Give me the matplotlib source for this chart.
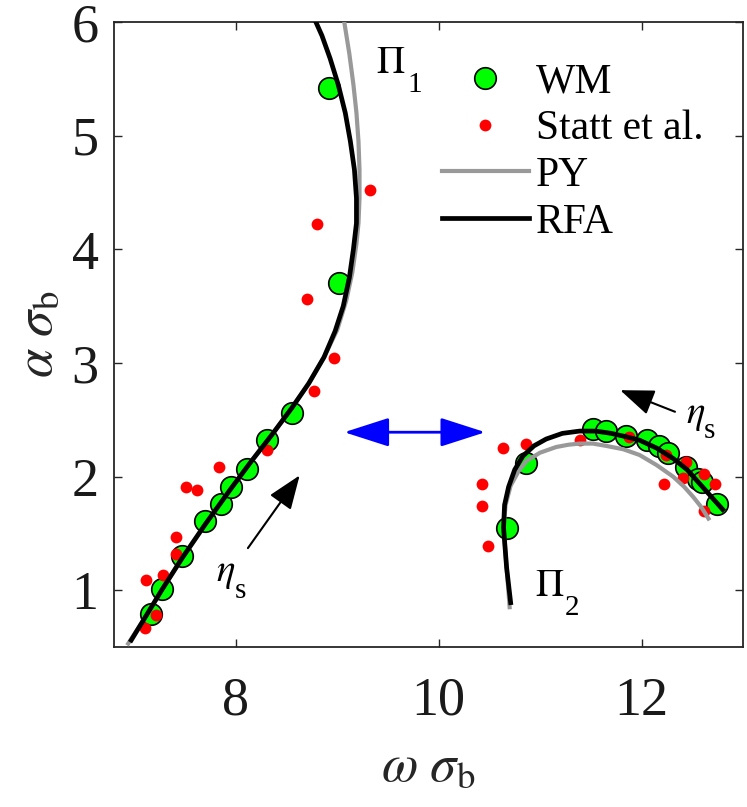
import matplotlib
matplotlib.use('Agg')
import matplotlib.pyplot as plt
from matplotlib.lines import Line2D

plt.rcParams['font.family'] = ['Liberation Serif', 'DejaVu Serif']
plt.rcParams['mathtext.fontset'] = 'stix'

# WM simulation points (omega*sigma_b, alpha*sigma_b)
wm_x = [7.16, 7.27, 7.47, 7.70, 7.85, 7.95, 8.11, 8.31, 8.55, 9.02, 8.92,
        10.67, 10.86, 11.52, 11.65, 11.85, 12.05, 12.17, 12.26, 12.44, 12.56,
        12.60, 12.74]
wm_y = [0.79, 1.01, 1.30, 1.61, 1.76, 1.91, 2.07, 2.32, 2.56, 3.70, 5.42,
        1.55, 2.12, 2.42, 2.40, 2.36, 2.32, 2.27, 2.21, 2.08, 1.98,
        1.95, 1.76]

# Statt et al. points
statt_x = [7.11, 7.21, 7.12, 7.28, 7.41, 7.41, 7.51, 7.62, 7.84, 8.31, 8.77,
           8.97, 8.70, 8.80, 9.32,
           10.43, 10.43, 10.49, 10.63, 10.86, 11.39, 11.88, 12.24, 12.22,
           12.44, 12.41, 12.62, 12.72, 12.62]
statt_y = [0.67, 0.78, 1.09, 1.13, 1.32, 1.47, 1.91, 1.88, 2.08, 2.23, 2.75,
           3.04, 3.56, 4.22, 4.52,
           1.93, 1.74, 1.39, 2.25, 2.29, 2.32, 2.35, 2.19, 1.93,
           2.13, 1.99, 2.02, 1.93, 1.70]

# RFA, branch Pi_1 and Pi_2
rfa1_x = [6.97, 7.10, 7.27, 7.47, 7.70, 7.95, 8.15, 8.35, 8.55, 8.72, 8.87,
          8.98, 9.06, 9.12, 9.16, 9.19, 9.19, 9.17, 9.13, 9.08, 9.01, 8.93,
          8.85, 8.79]
rfa1_y = [0.56, 0.75, 1.00, 1.28, 1.58, 1.89, 2.13, 2.36, 2.60, 2.82, 3.05,
          3.28, 3.50, 3.75, 4.00, 4.23, 4.45, 4.70, 4.95, 5.20, 5.45, 5.68,
          5.88, 6.00]
rfa2_x = [10.71, 10.67, 10.64, 10.65, 10.69, 10.75, 10.83, 10.94, 11.06,
          11.22, 11.39, 11.55, 11.70, 11.85, 11.98, 12.15, 12.31, 12.45,
          12.57, 12.68, 12.80]
rfa2_y = [0.89, 1.20, 1.55, 1.75, 1.91, 2.06, 2.18, 2.27, 2.33, 2.38, 2.40,
          2.40, 2.38, 2.35, 2.32, 2.25, 2.16, 2.06, 1.94, 1.83, 1.71]

# PY, branch Pi_1 and Pi_2
py1_x = [6.94, 7.10, 7.27, 7.47, 7.70, 7.95, 8.15, 8.35, 8.55, 8.72, 8.87,
         9.00, 9.09, 9.15, 9.19, 9.21, 9.22, 9.22, 9.21, 9.19, 9.16, 9.12,
         9.07]
py1_y = [0.53, 0.75, 1.00, 1.28, 1.58, 1.89, 2.13, 2.36, 2.60, 2.82, 3.05,
         3.29, 3.55, 3.80, 4.05, 4.23, 4.45, 4.70, 4.95, 5.20, 5.45, 5.72,
         6.00]
py2_x = [10.70, 10.67, 10.64, 10.66, 10.71, 10.79, 10.87, 11.00, 11.16,
         11.28, 11.39, 11.52, 11.65, 11.82, 11.98, 12.15, 12.31, 12.42,
         12.51, 12.59, 12.66]
py2_y = [0.85, 1.20, 1.55, 1.75, 1.92, 2.05, 2.14, 2.21, 2.26, 2.28, 2.29,
         2.29, 2.27, 2.24, 2.19, 2.10, 2.00, 1.91, 1.82, 1.73, 1.63]


def sub_label(ax, x, y, main, sub, dx, dy):
    # symbol with a low subscript, MATLAB-like
    ax.text(x, y, main, fontsize=28, ha='left', va='baseline')
    ax.annotate(sub, xy=(x, y), xytext=(dx, dy), textcoords='offset points',
                fontsize=21, ha='left', va='baseline')


fig = plt.figure(figsize=(7.47, 8.07), dpi=100)
ax = fig.add_axes([0.1526, 0.1983, 0.842, 0.7744])

gray = (0.6, 0.6, 0.6)
ax.plot(wm_x, wm_y, 'o', ms=15.5, mfc=(0, 1, 0), mec='k', mew=1.2, zorder=2)
ax.plot(statt_x, statt_y, 'o', ms=8.5, color='r', mec='none', zorder=3)
ax.plot(py1_x, py1_y, color=gray, lw=3.0, zorder=4)
ax.plot(py2_x, py2_y, color=gray, lw=3.0, zorder=4)
ax.plot(rfa1_x, rfa1_y, color='k', lw=3.4, zorder=5)
ax.plot(rfa2_x, rfa2_y, color='k', lw=3.4, zorder=5)

# arrows
ax.annotate('', xy=(10.46, 2.39), xytext=(9.07, 2.39),
            arrowprops=dict(arrowstyle='<|-|>,head_length=1.4,head_width=0.45',
                            color=(0, 0, 1), lw=2.0, mutation_scale=20,
                            shrinkA=0, shrinkB=0))
ax.annotate('', xy=(8.63, 2.01), xytext=(8.12, 1.37),
            arrowprops=dict(arrowstyle='-|>,head_length=1.05,head_width=0.4',
                            color='k', lw=1.5, mutation_scale=20,
                            shrinkA=0, shrinkB=0))
ax.annotate('', xy=(11.79, 2.76), xytext=(12.33, 2.57),
            arrowprops=dict(arrowstyle='-|>,head_length=1.05,head_width=0.4',
                            color='k', lw=1.5, mutation_scale=20,
                            shrinkA=0, shrinkB=0))

sub_label(ax, 9.38, 5.55, r'$\Pi$', '1', 23, -13.5)
sub_label(ax, 10.95, 0.95, r'$\Pi$', '2', 21.5, -14)
sub_label(ax, 7.81, 1.08, r'$\eta$', 's', 13.5, -12)
sub_label(ax, 12.44, 2.47, r'$\eta$', 's', 12.5, -11)

ax.set_xlim(6.8, 13)
ax.set_ylim(0.5, 6)
ax.set_xticks([8, 10, 12])
ax.set_yticks([1, 2, 3, 4, 5, 6])
ax.tick_params(direction='in', length=6, width=1, labelsize=39,
               top=True, right=True, colors=(0.15, 0.15, 0.15),
               labelcolor=(0.1, 0.1, 0.1))
ax.tick_params(axis='x', pad=21)
ax.tick_params(axis='y', pad=11)
for s in ax.spines.values():
    s.set_linewidth(1.3)
    s.set_color((0.15, 0.15, 0.15))

ax.set_xlabel(r'$\omega\ \sigma_{\rm b}$', fontsize=38,
              color=(0.15, 0.15, 0.15), labelpad=12)
ax.set_ylabel(r'$\alpha\ \sigma_{\rm b}$', fontsize=38,
              color=(0.15, 0.15, 0.15), labelpad=6)

handles = [
    Line2D([], [], ls='none', marker='o', ms=15.5, mfc=(0, 1, 0), mec='k', mew=1.2),
    Line2D([], [], ls='none', marker='o', ms=8.5, color='r', mec='none'),
    Line2D([], [], color=gray, lw=3.0),
    Line2D([], [], color='k', lw=3.4),
]
ax.legend(handles, ['WM', 'Statt et al.', 'PY', 'RFA'], loc='upper right',
          bbox_to_anchor=(0.951, 0.948), frameon=False, fontsize=30,
          handlelength=2.1, handletextpad=0.17, labelspacing=0.2,
          borderaxespad=0.0, borderpad=0.2)

fig.savefig('out.png', dpi=100)
